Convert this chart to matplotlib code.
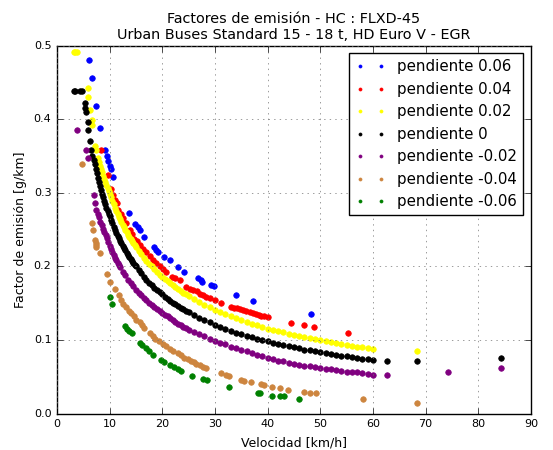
import matplotlib
matplotlib.use("Agg")
import matplotlib.pyplot as plt

# Factores de emision HC por pendiente
p006_x = [6.15, 6.7, 7.4, 8.15, 9.2, 9.5, 9.7, 10.0, 10.2, 10.6, 13.7, 14.9, 15.3, 15.7,
          16.6, 18.5, 18.9, 19.2, 20.4, 21.4, 23.0, 24.2, 26.8, 27.3, 27.6, 29.3, 29.8,
          34.0, 37.3, 48.3]
p006_y = [0.481, 0.456, 0.418, 0.389, 0.358, 0.350, 0.343, 0.336, 0.332, 0.322, 0.273,
          0.258, 0.254, 0.249, 0.240, 0.226, 0.223, 0.220, 0.213, 0.209, 0.199, 0.193,
          0.184, 0.181, 0.179, 0.175, 0.174, 0.161, 0.153, 0.135]

p004_x = [8.35, 9.7, 10.3, 10.6, 11.0, 11.4, 11.6, 12.1, 12.6, 13.2, 13.8, 14.3, 14.7,
          15.2, 15.7, 16.3, 17.0, 17.6, 18.2, 18.8, 19.5, 20.1, 20.8, 21.8, 22.5, 23.3,
          24.6, 25.2, 25.8, 26.5, 27.1, 27.7, 28.3, 29.0, 30.0, 31.2, 33.1, 33.7, 34.2,
          34.7, 35.3, 35.9, 36.6, 37.2, 37.8, 38.3, 38.8, 39.4, 40.0, 44.5, 46.9, 48.9,
          55.2]
p004_y = [0.359, 0.3245, 0.306, 0.297, 0.291, 0.286, 0.277, 0.271, 0.266, 0.259, 0.250,
          0.244, 0.238, 0.234, 0.229, 0.224, 0.220, 0.214, 0.209, 0.205, 0.200, 0.197,
          0.193, 0.186, 0.184, 0.182, 0.1725, 0.170, 0.168, 0.166, 0.163, 0.161, 0.159,
          0.157, 0.155, 0.150, 0.145, 0.144, 0.143, 0.142, 0.1405, 0.1395, 0.138, 0.1365,
          0.135, 0.134, 0.1327, 0.132, 0.131, 0.1236, 0.121, 0.118, 0.109]

p002_x = [3.2, 3.5, 3.8, 5.8, 5.96, 6.2, 6.6, 6.7, 7.2, 7.5, 7.85,
          8.0, 8.2, 8.4, 8.6, 8.8, 9.0, 9.2, 9.4, 9.6, 9.8, 10.0, 10.25, 10.5, 10.75,
          11.0, 11.25, 11.5, 11.75, 12.0, 12.25, 12.5, 12.75, 13.0, 13.25, 13.5, 13.75,
          14.0, 14.25, 14.5, 14.75, 15.0, 15.5, 16.0, 16.5, 17.0, 17.5, 18.0, 18.5, 19.0,
          19.5, 20.0, 20.5, 21.0, 21.5, 22.0, 22.5, 23.0, 23.5, 24.0, 24.5, 25, 26, 27, 28,
          29, 30, 31, 32, 33, 34, 35, 36, 37, 38, 39, 40, 41, 42, 43, 44, 45, 46, 47, 48,
          49, 50, 51, 52, 53, 54, 55, 56, 57, 58, 59, 60, 68.3]
p002_y = [0.492, 0.492, 0.492, 0.443, 0.430, 0.413, 0.399, 0.392, 0.364, 0.358, 0.347,
          0.342, 0.337, 0.332, 0.328, 0.323, 0.319, 0.315, 0.311, 0.307, 0.303, 0.299,
          0.294, 0.289, 0.2845, 0.280, 0.2757, 0.2715, 0.2677, 0.264, 0.2602, 0.2565,
          0.2531, 0.250, 0.2467, 0.2434, 0.2404, 0.2374, 0.2346, 0.2318, 0.2291, 0.2265,
          0.2215, 0.2168, 0.212, 0.208, 0.204, 0.200, 0.196, 0.1928, 0.189, 0.1861, 0.183,
          0.180, 0.177, 0.1744, 0.1718, 0.1692, 0.1668, 0.1644, 0.1621, 0.1599, 0.1557,
          0.1517, 0.148, 0.1445, 0.1412, 0.138, 0.1351, 0.1323, 0.1296, 0.127, 0.1247,
          0.1224, 0.1202, 0.118, 0.1156, 0.114, 0.1122, 0.1105, 0.1087, 0.107, 0.1055,
          0.104, 0.1025, 0.101, 0.0996, 0.0983, 0.097, 0.0958, 0.0946, 0.0934, 0.0922,
          0.091, 0.090, 0.089, 0.088, 0.085]

p0_x = [3.2, 3.5, 4.3, 4.7, 5.3, 5.4, 5.45, 5.9, 5.95, 6.2, 6.4, 6.7,
        7.0, 7.2, 7.4, 7.6, 7.8, 8.0, 8.2, 8.4, 8.6, 8.8, 9.0, 9.2, 9.4, 9.6, 9.8, 10.0,
        10.25, 10.5, 10.75, 11.0, 11.25, 11.5, 11.75, 12.0, 12.25, 12.5, 12.75, 13.0,
        13.25, 13.5, 13.75, 14.0, 14.25, 14.5, 14.75, 15.0, 15.5, 16.0, 16.5, 17.0, 17.5,
        18.0, 18.5, 19.0, 19.5, 20.0, 20.5, 21.0, 21.5, 22.0, 22.5, 23.0, 23.5, 24.0,
        24.5, 25, 26, 27, 28, 29, 30, 31, 32, 33, 34, 35, 36, 37, 38, 39, 40, 41, 42, 43,
        44, 45, 46, 47, 48, 49, 50, 51, 52, 53, 54, 55, 56, 57, 58, 59, 60,
        62.7, 68.3, 84.3]
p0_y = [0.439, 0.439, 0.439, 0.439, 0.422, 0.416, 0.410, 0.397, 0.386, 0.371, 0.358, 0.350,
        0.345, 0.340, 0.333, 0.327, 0.321, 0.315, 0.3094, 0.304, 0.2989, 0.2939, 0.289,
        0.2844, 0.280, 0.2758, 0.2717, 0.268, 0.2632, 0.2587, 0.2543, 0.250, 0.246,
        0.2421, 0.2383, 0.235, 0.2315, 0.228, 0.2249, 0.222, 0.219, 0.216, 0.213, 0.210,
        0.2074, 0.205, 0.2025, 0.200, 0.195, 0.191, 0.186, 0.182, 0.178, 0.175, 0.171,
        0.168, 0.165, 0.162, 0.159, 0.156, 0.1535, 0.151, 0.1485, 0.146, 0.144, 0.142,
        0.140, 0.138, 0.134, 0.130, 0.127, 0.124, 0.121, 0.118, 0.115, 0.1125, 0.110,
        0.108, 0.106, 0.104, 0.102, 0.100, 0.098, 0.096, 0.0946, 0.093, 0.0915, 0.090,
        0.0886, 0.087, 0.0859, 0.0846, 0.0833, 0.082, 0.081, 0.080, 0.0788, 0.0778,
        0.0768, 0.0758, 0.0748, 0.074, 0.073, 0.0714, 0.071, 0.075]

m002_x = [3.8, 5.45, 5.9,
          7.0, 7.25, 7.5, 7.75, 8.0, 8.25, 8.5, 8.75, 9.0, 9.25, 9.5, 9.75, 10.0, 10.25,
          10.5, 10.75, 11.0, 11.25, 11.5, 11.75, 12.0, 12.5, 13.0, 13.5, 14.0, 14.5, 15.0,
          15.5, 16.0, 16.5, 17.0, 17.5, 18.0, 18.5, 19.0, 19.5, 20.0, 20.5, 21.0, 21.5,
          22.0, 22.5, 23.0, 23.5, 24.0, 24.5, 25, 26, 27, 28, 29, 30, 31, 32, 33, 34, 35,
          36, 37, 38, 39, 40, 41, 42, 43, 44, 45, 46, 47, 48, 49, 50, 51, 52, 53, 54, 55,
          56, 57, 58, 59, 60, 62.7, 74.2, 84.3]
m002_y = [0.385, 0.358, 0.347,
          0.297, 0.286, 0.277, 0.272, 0.267, 0.261, 0.256, 0.251, 0.247, 0.243, 0.239,
          0.233, 0.228, 0.224, 0.220, 0.216, 0.212, 0.2085, 0.205, 0.202, 0.199, 0.193,
          0.188, 0.182, 0.177, 0.173, 0.168, 0.164, 0.161, 0.157, 0.154, 0.151, 0.148,
          0.145, 0.142, 0.140, 0.137, 0.1345, 0.132, 0.1295, 0.127, 0.1245, 0.122, 0.120,
          0.118, 0.116, 0.114, 0.111, 0.108, 0.105, 0.102, 0.099, 0.096, 0.094, 0.091,
          0.089, 0.087, 0.085, 0.083, 0.080, 0.078, 0.076, 0.074, 0.072, 0.071, 0.069,
          0.068, 0.066, 0.065, 0.064, 0.063, 0.062, 0.061, 0.060, 0.059, 0.058, 0.057,
          0.056, 0.056, 0.055, 0.054, 0.053, 0.053, 0.057, 0.062]

m004_x = [4.7, 6.65, 6.8, 7.3, 7.35, 7.4, 7.5, 8.1, 9.55, 10.1, 10.95, 11.8, 12.1, 12.5,
          13.1, 13.7, 14.1, 14.6, 15.1, 15.7, 16.1, 16.6, 17.6, 18.2, 18.7, 19.3, 20.1,
          20.8, 21.4, 22.0, 23.0, 23.6, 24.2, 24.9, 25.4, 26.1, 26.4, 27.1, 27.7, 28.3,
          31.2, 32.1, 32.7, 35.0, 35.6, 36.9, 38.8, 39.4, 40.9, 42.4, 43.8, 47.0, 48.0,
          49.2, 58.1, 68.3]
m004_y = [0.339, 0.259, 0.249, 0.236, 0.232, 0.229, 0.227, 0.218, 0.190, 0.179, 0.170,
          0.161, 0.155, 0.149, 0.145, 0.140, 0.137, 0.132, 0.127, 0.124, 0.120, 0.116,
          0.109, 0.105, 0.101, 0.098, 0.094, 0.092, 0.088, 0.085, 0.082, 0.079, 0.075,
          0.074, 0.072, 0.0697, 0.068, 0.066, 0.0637, 0.062, 0.0547, 0.053, 0.0515,
          0.0456, 0.0447, 0.0435, 0.0397, 0.039, 0.0356, 0.0343, 0.032, 0.0297, 0.028,
          0.028, 0.020, 0.0147]

m006_x = [10.0, 10.5, 13.0, 13.3, 13.6, 14.2, 15.7, 16.1, 17.0, 17.5, 18.3, 19.8, 20.4,
          21.5, 22.2, 22.9, 23.6, 25.7, 27.7, 28.4, 32.6, 38.1, 38.6, 40.9, 42.4, 43.2,
          45.9]
m006_y = [0.159, 0.149, 0.119, 0.115, 0.112, 0.109, 0.096, 0.0935, 0.0887, 0.085, 0.0796,
          0.0728, 0.0705, 0.066, 0.063, 0.060, 0.058, 0.0514, 0.0465, 0.045, 0.0356,
          0.0275, 0.0275, 0.0238, 0.0233, 0.0233, 0.0193]

series = [
    (p006_x, p006_y, 'blue', 'pendiente 0.06'),
    (p004_x, p004_y, 'red', 'pendiente 0.04'),
    (p002_x, p002_y, 'yellow', 'pendiente 0.02'),
    (p0_x, p0_y, 'black', 'pendiente 0'),
    (m002_x, m002_y, 'purple', 'pendiente -0.02'),
    (m004_x, m004_y, 'peru', 'pendiente -0.04'),
    (m006_x, m006_y, 'green', 'pendiente -0.06'),
]

plt.style.use('classic')
fig = plt.figure(figsize=(5.53, 4.5), dpi=100, facecolor='white')
ax = fig.add_axes([0.103, 0.081, 0.857, 0.817])

for xs, ys, col, lab in series:
    ax.plot(xs, ys, '.', color=col, markeredgecolor=col, markersize=8, label=lab)

ax.set_xlim(0, 90)
ax.set_ylim(0, 0.5)
ax.set_xticks(range(0, 91, 10))
ax.set_yticks([0.0, 0.1, 0.2, 0.3, 0.4, 0.5])
ax.tick_params(labelsize=8)
ax.grid(True, color='0.45', linestyle=':')
ax.set_xlabel('Velocidad [km/h]', fontsize=9)
ax.set_ylabel('Factor de emisión [g/km]', fontsize=9)
ax.set_title('Factores de emisión - HC : FLXD-45\nUrban Buses Standard 15 - 18 t, HD Euro V - EGR',
             fontsize=10.4)
ax.legend(loc='upper right', numpoints=2, fontsize=10.8, markerscale=0.55)

fig.savefig('out.png', dpi=100, facecolor='white')
